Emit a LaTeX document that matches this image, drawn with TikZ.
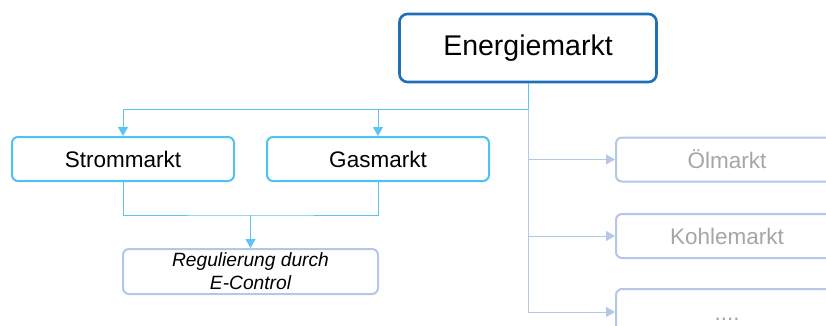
\documentclass[tikz,border=0pt]{standalone}
\usepackage{fontspec}
\setmainfont{Liberation Sans}
\usetikzlibrary{arrows.meta}
\definecolor{darkb}{HTML}{1F6FB8}
\definecolor{lightb}{HTML}{4DC3EE}
\definecolor{connb}{HTML}{5CC4F0}
\definecolor{greyb}{HTML}{B4C7E7}
\definecolor{greytxt}{HTML}{A6A6A6}
\tikzset{
  mainbox/.style={draw=darkb, line width=2.6pt, rounded corners=8pt, fill=white,
    minimum width=257pt, minimum height=68pt, inner sep=0pt, font=\fontsize{28.5}{32}\selectfont},
  subbox/.style={draw=lightb, line width=2pt, rounded corners=6pt, fill=white,
    minimum width=222pt, minimum height=44pt, inner sep=0pt, font=\fontsize{22.5}{26}\selectfont},
  regbox/.style={draw=greyb, line width=2pt, rounded corners=6pt, fill=white,
    minimum width=255pt, minimum height=45pt, inner sep=0pt, align=center,
    font=\fontsize{19.2}{23}\selectfont\itshape},
  othbox/.style={draw=greyb, line width=2pt, rounded corners=6pt, fill=white,
    minimum width=222pt, minimum height=44pt, inner sep=0pt, text=greytxt,
    font=\fontsize{22.5}{26}\selectfont},
  conn/.style={draw=connb, line width=1pt, -{Triangle[width=10pt,length=9pt]}},
  connplain/.style={draw=connb, line width=1pt},
  gconn/.style={draw=greyb, line width=1pt, -{Triangle[width=10pt,length=9pt]}},
}
\begin{document}
\begin{tikzpicture}[x=1pt,y=-1pt]
\useasboundingbox (0,0) rectangle (826,325);
\clip (0,0) rectangle (826,325);
\coordinate (j) at (528,109);
\coordinate (m) at (250.5,215);
% right branch (drawn first, behind)
\node[othbox] (oel) at (727,159.5) {Ölmarkt};
\node[othbox] (kohle) at (727,236) {Kohlemarkt};
\node[othbox, minimum height=60pt] (dots) at (727,319) {....};
\draw[gconn] (j) |- ([yshift=7pt]dots.west);
\draw[gconn] (j) |- (oel.west);
\draw[gconn] (j) |- (kohle.west);
% main
\node[mainbox] (E) at (528,48) {Energiemarkt};
\node[subbox] (strom) at (123,159) {Strommarkt};
\node[subbox] (gas) at (378,159) {Gasmarkt};
\node[regbox] (reg) at (250.5,271.5) {Regulierung durch\\E-Control};
\draw[connplain] (E.south) -- (j);
\draw[conn] (j) -| (strom.north);
\draw[conn] (j) -| (gas.north);
\draw[connplain] (strom.south) |- (m) -| (gas.south);
\draw[conn] (m) -- (reg.north);
\end{tikzpicture}
\end{document}
